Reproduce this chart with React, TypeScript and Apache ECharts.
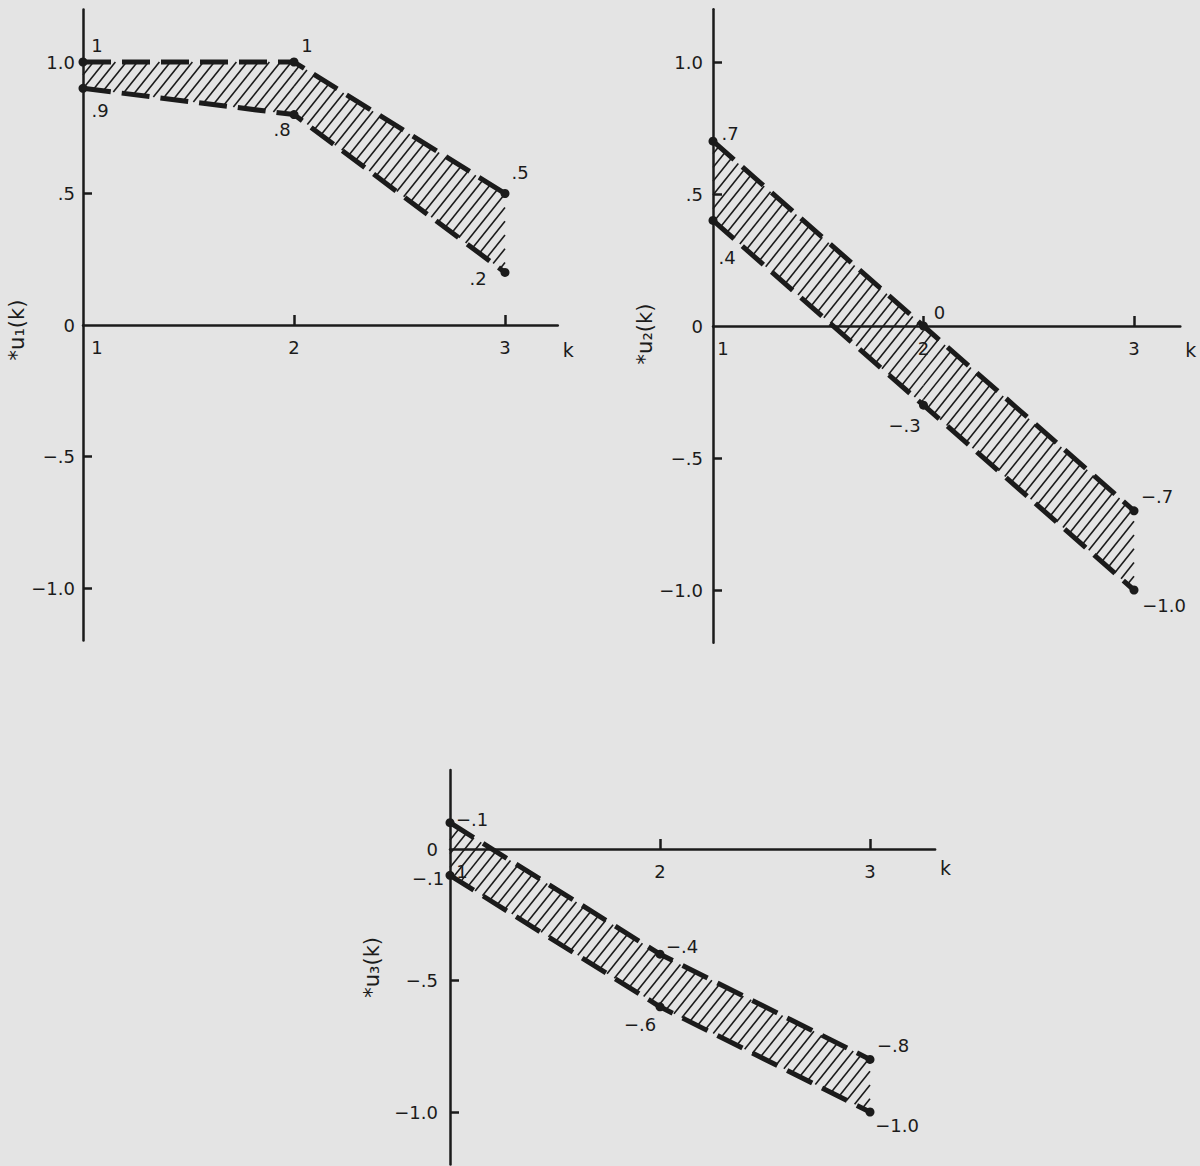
import React, { useEffect, useRef } from 'react';
import * as echarts from 'echarts';

// ---------- data ----------
const kValues = [1, 2, 3];

const u1Upper = [1.0, 1.0, 0.5];
const u1Lower = [0.9, 0.8, 0.2];
const u2Upper = [0.7, 0.0, -0.7];
const u2Lower = [0.4, -0.3, -1.0];
const u3Upper = [0.1, -0.4, -0.8];
const u3Lower = [-0.1, -0.6, -1.0];

const u1UpperLabels = ['1', '1', '.5'];
const u1LowerLabels = ['.9', '.8', '.2'];
const u2UpperLabels = ['.7', '0', '−.7'];
const u2LowerLabels = ['.4', '−.3', '−1.0'];
const u3UpperLabels = ['−.1', '−.4', '−.8'];
const u3LowerLabels = ['−.1', '−.6', '−1.0'];

const yTickValues = [-1, -0.5, 0, 0.5, 1];
const yTickLabels = ['−1.0', '−.5', '0', '.5', '1.0'];
const xTickValues = [1, 2, 3];
const xTickLabels = ['1', '2', '3'];
const yAxisNames = ['*u₁(k)', '*u₂(k)', '*u₃(k)'];
const xAxisName = 'k';

// ---------- style ----------
const INK = '#1b1b1b';
const BG = '#e4e4e4';
const FONT = 'DejaVu Sans';
const FS = 18;
const HATCH_T = 1.25; // slope of hatch lines (pixels)
const HATCH_H = 11; // horizontal spacing of hatch lines

const panels = [
  {
    upper: u1Upper, lower: u1Lower, upperLabels: u1UpperLabels, lowerLabels: u1LowerLabels,
    grid: { left: 83, top: 9.4, width: 2.25 * 211, height: 2.4 * 263 },
    xMax: 3.25, yMin: -1.2, yMax: 1.2,
    yLabelVals: [-1, -0.5, 0, 0.5, 1], yTickVals: [-1, -0.5, 0.5, 1],
    upOff: [[14, -17], [13, -17], [15, -21]],
    loOff: [[17, 22], [-12, 15], [-27, 6]],
    nameGap: 44, namePad: [0, 10, 0, 0], yLabelMargin: 8, x1Shift: 14, kDown: 25,
  },
  {
    upper: u2Upper, lower: u2Lower, upperLabels: u2UpperLabels, lowerLabels: u2LowerLabels,
    grid: { left: 713, top: 9.2, width: 2.22 * 210.5, height: 2.4 * 264 },
    xMax: 3.22, yMin: -1.2, yMax: 1.2,
    yLabelVals: [-1, -0.5, 0, 0.5, 1], yTickVals: [-1, -0.5, 0.5, 1],
    upOff: [[17, -8], [16, -14], [23, -14]],
    loOff: [[14, 37], [-19, 20], [30, 15]],
    nameGap: 40, namePad: [0, 16, 0, 0], yLabelMargin: 10, x1Shift: 10, kDown: 24,
  },
  {
    upper: u3Upper, lower: u3Lower, upperLabels: u3UpperLabels, lowerLabels: u3LowerLabels,
    grid: { left: 450, top: 770.1, width: 2.31 * 210, height: 1.5 * 263 },
    xMax: 3.31, yMin: -1.2, yMax: 0.3,
    yLabelVals: [-1, -0.5, 0], yTickVals: [-1, -0.5],
    upOff: [[22, -3], [22, -8], [23, -14]],
    loOff: [[-22, 3], [-20, 18], [27, 13]],
    nameGap: 68, namePad: [0, 0, 0, 0], yLabelMargin: 12, x1Shift: 12, kDown: 19,
  },
];

function labelFor(values: number[], labels: string[], v: number) {
  for (let i = 0; i < values.length; i++) if (Math.abs(values[i] - v) < 1e-6) return labels[i];
  return '';
}

function hatchRenderItem(params: any, api: any) {
  const x0 = api.value(0), lo0 = api.value(1), up0 = api.value(2);
  const x1 = api.value(3), lo1 = api.value(4), up1 = api.value(5);
  const pU0 = api.coord([x0, up0]), pU1 = api.coord([x1, up1]);
  const pL0 = api.coord([x0, lo0]), pL1 = api.coord([x1, lo1]);
  const xa = pU0[0], xb = pU1[0];
  const mu = (pU1[1] - pU0[1]) / (xb - xa);
  const ml = (pL1[1] - pL0[1]) / (xb - xa);
  const T = HATCH_T;
  const cs = [T * xa + pU0[1], T * xb + pU1[1], T * xa + pL0[1], T * xb + pL1[1]];
  const cmin = Math.min(...cs), cmax = Math.max(...cs);
  const step = HATCH_H * T;
  const children: any[] = [];
  for (let c = Math.ceil(cmin / step) * step; c <= cmax; c += step) {
    const xL = (c - pL0[1] + ml * xa) / (T + ml);
    const xU = (c - pU0[1] + mu * xa) / (T + mu);
    const s = Math.max(xL, xa), e = Math.min(xU, xb);
    if (e - s > 0.5) {
      children.push({
        type: 'line',
        shape: { x1: s, y1: c - T * s, x2: e, y2: c - T * e },
        style: { stroke: INK, lineWidth: 1.6 },
      });
    }
  }
  return { type: 'group', children };
}

function buildOption() {
  const grid: any[] = [];
  const xAxis: any[] = [];
  const yAxis: any[] = [];
  const series: any[] = [];
  const textBase = { color: INK, fontFamily: FONT, fontSize: FS };

  panels.forEach((p, i) => {
    grid.push({ ...p.grid, containLabel: false, outerBoundsMode: 'none' });
    const zeroFromBottom = ((0 - p.yMin) / (p.yMax - p.yMin)) * p.grid.height;
    xAxis.push({
      type: 'value', gridIndex: i, min: 1, max: p.xMax, interval: 1,
      position: 'bottom', offset: -zeroFromBottom,
      axisLine: { onZero: false, lineStyle: { color: INK, width: 2.5 } },
      axisTick: { inside: true, length: 10, customValues: [2, 3], lineStyle: { color: INK, width: 2.5 } },
      axisLabel: {
        ...textBase,
        customValues: xTickValues,
        margin: 13,
        formatter: (v: number) => {
          const t = labelFor(xTickValues, xTickLabels, v);
          return v === 1 ? `{o|${t}}` : t;
        },
        rich: { o: { ...textBase, padding: [0, 0, 0, 2 * p.x1Shift] } },
      },
      splitLine: { show: false },
      name: xAxisName, nameLocation: 'end', nameGap: 5,
      nameTextStyle: {
        ...textBase, fontSize: 19, align: 'left', verticalAlign: 'top',
        lineHeight: 2 * p.kDown,
      },
    });
    yAxis.push({
      type: 'value', gridIndex: i, min: p.yMin, max: p.yMax,
      axisLine: { onZero: false, lineStyle: { color: INK, width: 2.5 } },
      axisTick: { inside: true, length: 9, customValues: p.yTickVals, lineStyle: { color: INK, width: 2.5 } },
      axisLabel: {
        ...textBase,
        customValues: p.yLabelVals,
        margin: p.yLabelMargin,
        formatter: (v: number) => labelFor(yTickValues, yTickLabels, v),
      },
      splitLine: { show: false },
      name: yAxisNames[i], nameLocation: 'middle', nameGap: p.nameGap, nameRotate: 90,
      nameTextStyle: { ...textBase, fontSize: 21, padding: p.namePad },
    });

    const segs = kValues.slice(0, -1).map((k, j) => [
      k, p.lower[j], p.upper[j], kValues[j + 1], p.lower[j + 1], p.upper[j + 1],
    ]);
    series.push({
      type: 'custom', xAxisIndex: i, yAxisIndex: i, renderItem: hatchRenderItem,
      data: segs, silent: true, z: 1, clip: false,
    });

    const mkLine = (vals: number[], labels: string[], offs: number[][]) => ({
      type: 'line', xAxisIndex: i, yAxisIndex: i, z: 3, silent: true,
      symbol: 'circle', symbolSize: 9, showAllSymbol: true,
      itemStyle: { color: INK },
      lineStyle: { color: INK, width: 5, type: [28, 11], cap: 'butt' },
      label: { show: true, ...textBase, position: 'inside', align: 'center', verticalAlign: 'middle' },
      data: kValues.map((k, j) => ({
        value: [k, vals[j]],
        label: { show: true, formatter: labels[j], offset: offs[j], color: INK },
      })),
    });
    series.push(mkLine(p.upper, p.upperLabels, p.upOff));
    series.push(mkLine(p.lower, p.lowerLabels, p.loOff));
  });

  return {
    animation: false,
    backgroundColor: BG,
    grid, xAxis, yAxis, series,
  };
}

export default function App() {
  const ref = useRef<HTMLDivElement>(null);
  useEffect(() => {
    if (!ref.current) return;
    const chart = echarts.init(ref.current, undefined, { renderer: 'svg' });
    chart.setOption(buildOption() as any);
    return () => chart.dispose();
  }, []);
  return (
    <div
      ref={ref}
      style={{ position: 'absolute', left: 0, top: 0, width: 1200, height: 1166, background: BG }}
    />
  );
}
